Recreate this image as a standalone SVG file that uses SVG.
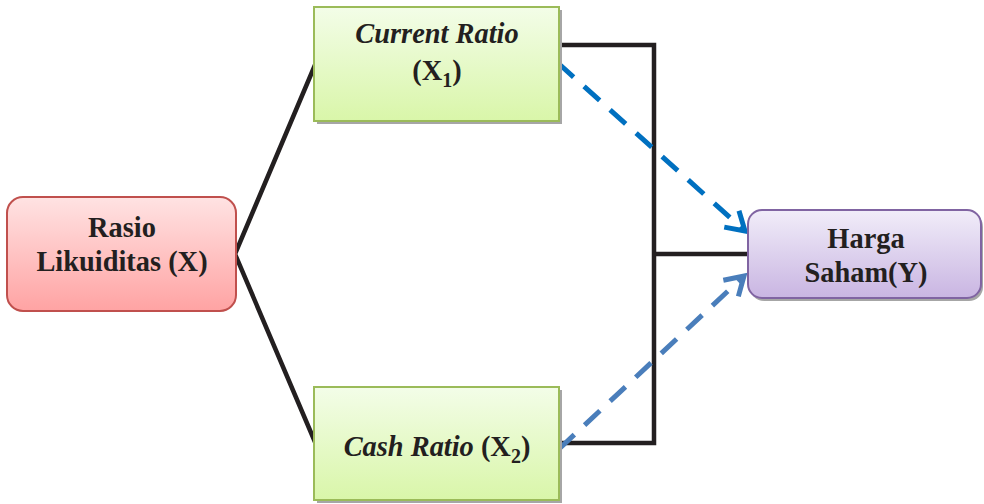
<svg xmlns="http://www.w3.org/2000/svg" width="984" height="504" viewBox="0 0 984 504">
<style>
.t{font-family:"Liberation Serif","Times New Roman",serif;font-weight:bold;font-size:28.4px;fill:#231f20;text-anchor:middle}
.i{font-style:italic}
.ln{fill:none;stroke:#231f20;stroke-width:4.5;stroke-linejoin:miter}
.d1{fill:none;stroke:#0070c0;stroke-width:5;stroke-dasharray:21 14}
.d2{fill:none;stroke:#4a7ebb;stroke-width:5;stroke-dasharray:21 14}
.shadow{fill:#a6a6a6}
</style>
<defs>
<linearGradient id="gG" x1="0" y1="0" x2="0" y2="1"><stop offset="0" stop-color="#f3fde8"/><stop offset="1" stop-color="#d9f6a9"/></linearGradient>
<linearGradient id="gR" x1="0" y1="0" x2="0" y2="1"><stop offset="0" stop-color="#ffe3e3"/><stop offset="1" stop-color="#ffa3a3"/></linearGradient>
<linearGradient id="gP" x1="0" y1="0" x2="0" y2="1"><stop offset="0" stop-color="#f1edf9"/><stop offset="1" stop-color="#c9b5e2"/></linearGradient>
<marker id="a1" markerUnits="userSpaceOnUse" markerWidth="30" markerHeight="30" viewBox="-25 -15 30 30" refX="0" refY="0" orient="auto"><path d="M-18 -11 L0 0 L-18 11" fill="none" stroke="#0070c0" stroke-width="5"/></marker>
<marker id="a2" markerUnits="userSpaceOnUse" markerWidth="30" markerHeight="30" viewBox="-25 -15 30 30" refX="0" refY="0" orient="auto"><path d="M-18 -11 L0 0 L-18 11" fill="none" stroke="#4a7ebb" stroke-width="5"/></marker>
</defs>
<g id="connectors">
<polyline class="ln" points="315,65 235,254 315,442"/>
<polyline class="ln" points="559,45 654,45 654,443 559,443"/>
<line class="ln" x1="654" y1="254" x2="748" y2="254"/>
<line class="d1" x1="558" y1="63" x2="745" y2="231" marker-end="url(#a1)"/>
<line class="d2" x1="559" y1="449" x2="744" y2="276" marker-end="url(#a2)"/>
</g>
<g id="rasio">
<rect x="7" y="197" width="229" height="114" rx="16" fill="url(#gR)" stroke="#c0504d" stroke-width="2"/>
<text class="t" x="122" y="237">Rasio</text>
<text class="t" x="122" y="271">Likuiditas (X)</text>
</g>
<g id="current">
<rect class="shadow" x="317" y="10" width="245" height="114"/>
<rect x="314" y="7" width="245" height="114" fill="url(#gG)" stroke="#9bbb59" stroke-width="2"/>
<text class="t i" x="437" y="43">Current Ratio</text>
<text class="t" x="437" y="80">(X<tspan font-size="20" dy="7">1</tspan><tspan dy="-7">)</tspan></text>
</g>
<g id="cash">
<rect class="shadow" x="317" y="390" width="245" height="113"/>
<rect x="314" y="387" width="245" height="113" fill="url(#gG)" stroke="#9bbb59" stroke-width="2"/>
<text class="t" x="437" y="456"><tspan font-style="italic">Cash Ratio</tspan> (X<tspan font-size="20" dy="7">2</tspan><tspan dy="-7">)</tspan></text>
</g>
<g id="harga">
<rect class="shadow" x="750" y="213" width="233" height="88" rx="14"/>
<rect x="748" y="210" width="233" height="88" rx="14" fill="url(#gP)" stroke="#8064a2" stroke-width="2"/>
<text class="t" x="866" y="248">Harga</text>
<text class="t" x="866" y="282">Saham(Y)</text>
</g>
</svg>
